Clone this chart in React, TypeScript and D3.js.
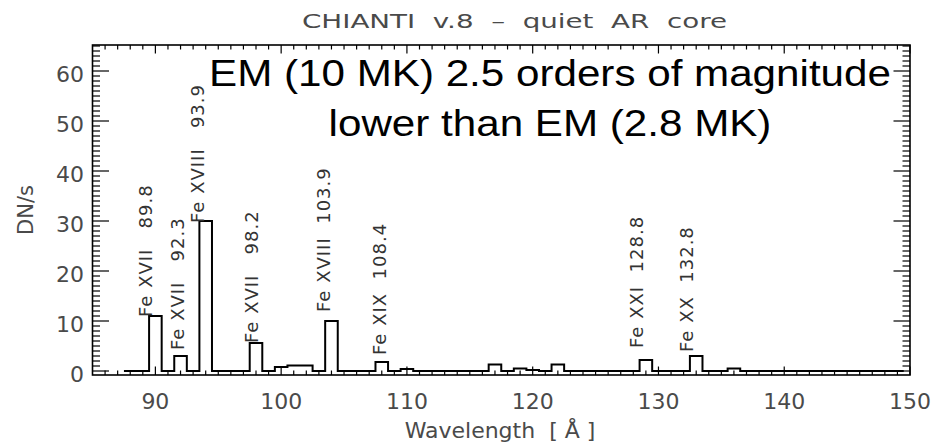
import React from 'react';
import * as d3 from 'd3';

// Histogram (1 Å bins, centres 88..149), DN/s
const binCenters: number[] = d3.range(88, 150);
const binValues: number[] = [
  0, 0, 11.0, 0, 3.0, 0, 30.0, 0, 0, 0,
  5.6, 0, 0.8, 1.1, 1.1, 0, 10.0, 0, 0, 0,
  1.8, 0, 0.4, 0, 0, 0, 0, 0, 0, 1.3,
  0, 0.5, 0.2, 0, 1.3, 0, 0, 0, 0, 0,
  0, 2.2, 0, 0, 0, 3.0, 0, 0, 0.5, 0,
  0, 0, 0, 0, 0, 0, 0, 0, 0, 0, 0, 0,
];

// Line identifications
const lineIons: string[] = ['Fe XVII', 'Fe XVII', 'Fe XVIII', 'Fe XVII', 'Fe XVIII', 'Fe XIX', 'Fe XXI', 'Fe XX'];
const lineWavelengths: number[] = [89.8, 92.3, 93.9, 98.2, 103.9, 108.4, 128.8, 132.8];
const lineLabelLevels: number[] = [10.8, 4.2, 29.6, 5.6, 11.8, 3.2, 4.6, 3.8];

const xMajorTicks: number[] = [90, 100, 110, 120, 130, 140, 150];
const yMajorTicks: number[] = [0, 10, 20, 30, 40, 50, 60];

const titleText = 'CHIANTI  v.8  \u2013  quiet  AR  core';
const xLabel = 'Wavelength  [ \u00C5 ]';
const yLabel = 'DN/s';
const noteLines: string[] = ['EM (10 MK) 2.5 orders of magnitude', 'lower than EM (2.8 MK)'];

const W = 932;
const H = 446;
const L = 92.5, R = 910, T = 45, B = 375;

export default function App() {
  const x = d3.scaleLinear().domain([85, 150]).range([L, R]);
  const y = d3.scaleLinear().domain([-0.8, 65.2]).range([B, T]);

  const pts: [number, number][] = binCenters.map((c, i) => [c - 0.5, binValues[i]]);
  pts.push([binCenters[binCenters.length - 1] + 0.5, binValues[binValues.length - 1]]);
  const stepLine = d3
    .line<[number, number]>()
    .x((d) => x(d[0]))
    .y((d) => y(d[1]))
    .curve(d3.curveStepAfter);

  const xMinor = d3.range(86, 150).filter((v) => v % 10 !== 0);
  const yMinor = d3.range(1, 66).filter((v) => v % 10 !== 0);

  const axisFont = 'DejaVu Sans, Verdana, sans-serif';
  const axisColor = '#4a4a4a';

  return (
    <svg
      width={W}
      height={H}
      viewBox={`0 0 ${W} ${H}`}
      style={{ position: 'absolute', left: 0, top: 0, background: '#fff' }}
    >
      <rect x={0} y={0} width={W} height={H} fill="#fff" />

      {/* title */}
      <text
        x={302}
        y={28}
        fontFamily={axisFont}
        fontSize={20}
        fill={axisColor}
        textLength={425}
        lengthAdjust="spacingAndGlyphs"
        xmlSpace="preserve"
      >
        {titleText}
      </text>

      {/* histogram */}
      <path d={stepLine(pts) || ''} fill="none" stroke="#000" strokeWidth={2} />

      {/* ticks */}
      <g stroke="#000" strokeWidth={1.2}>
        {xMinor.map((v) => (
          <g key={'xm' + v}>
            <line x1={x(v)} x2={x(v)} y1={B} y2={B - 4.5} />
            <line x1={x(v)} x2={x(v)} y1={T} y2={T + 4.5} />
          </g>
        ))}
        {xMajorTicks.map((v) => (
          <g key={'xM' + v}>
            <line x1={x(v)} x2={x(v)} y1={B} y2={B - 8.5} />
            <line x1={x(v)} x2={x(v)} y1={T} y2={T + 8.5} />
          </g>
        ))}
        {yMinor.map((v) => (
          <g key={'ym' + v}>
            <line x1={L} x2={L + 7.5} y1={y(v)} y2={y(v)} />
            <line x1={R} x2={R - 7.5} y1={y(v)} y2={y(v)} />
          </g>
        ))}
        {yMajorTicks.map((v) => (
          <g key={'yM' + v}>
            <line x1={L} x2={L + 16.5} y1={y(v)} y2={y(v)} />
            <line x1={R} x2={R - 16.5} y1={y(v)} y2={y(v)} />
          </g>
        ))}
      </g>

      {/* frame */}
      <rect x={L} y={T} width={R - L} height={B - T} fill="none" stroke="#000" strokeWidth={1.6} />

      {/* tick labels */}
      <g fontFamily={axisFont} fontSize={22} fill={axisColor}>
        {xMajorTicks.map((v) => (
          <text key={'xl' + v} x={x(v)} y={409} textAnchor="middle">
            {v}
          </text>
        ))}
        {yMajorTicks.map((v) => (
          <text key={'yl' + v} x={84} y={y(v) + 10.5} textAnchor="end">
            {v}
          </text>
        ))}
      </g>

      {/* axis titles */}
      <text
        x={500}
        y={438}
        textAnchor="middle"
        fontFamily={axisFont}
        fontSize={22}
        fill={axisColor}
        xmlSpace="preserve"
      >
        {xLabel}
      </text>
      <text
        transform={`translate(33,${(T + B) / 2}) rotate(-90)`}
        textAnchor="middle"
        fontFamily={axisFont}
        fontSize={21}
        fill={axisColor}
      >
        {yLabel}
      </text>

      {/* line labels */}
      <g fontFamily={axisFont} fontSize={18} fill="#333">
        {lineWavelengths.map((wl, i) => (
          <text
            key={'ll' + i}
            transform={`translate(${x(wl) - 0.5},${y(lineLabelLevels[i])}) rotate(-90)`}
            letterSpacing={1}
            xmlSpace="preserve"
          >
            {`${lineIons[i]} ${wl.toFixed(1).padStart(6, ' ')}`}
          </text>
        ))}
      </g>

      {/* annotation */}
      <g transform="translate(550,0) scale(1.14,1)">
        {noteLines.map((t, i) => (
          <text
            key={'n' + i}
            x={0}
            y={86 + i * 50}
            textAnchor="middle"
            fontFamily="Liberation Sans, Arial, Helvetica, sans-serif"
            fontSize={37}
            fill="#000"
          >
            {t}
          </text>
        ))}
      </g>
    </svg>
  );
}
